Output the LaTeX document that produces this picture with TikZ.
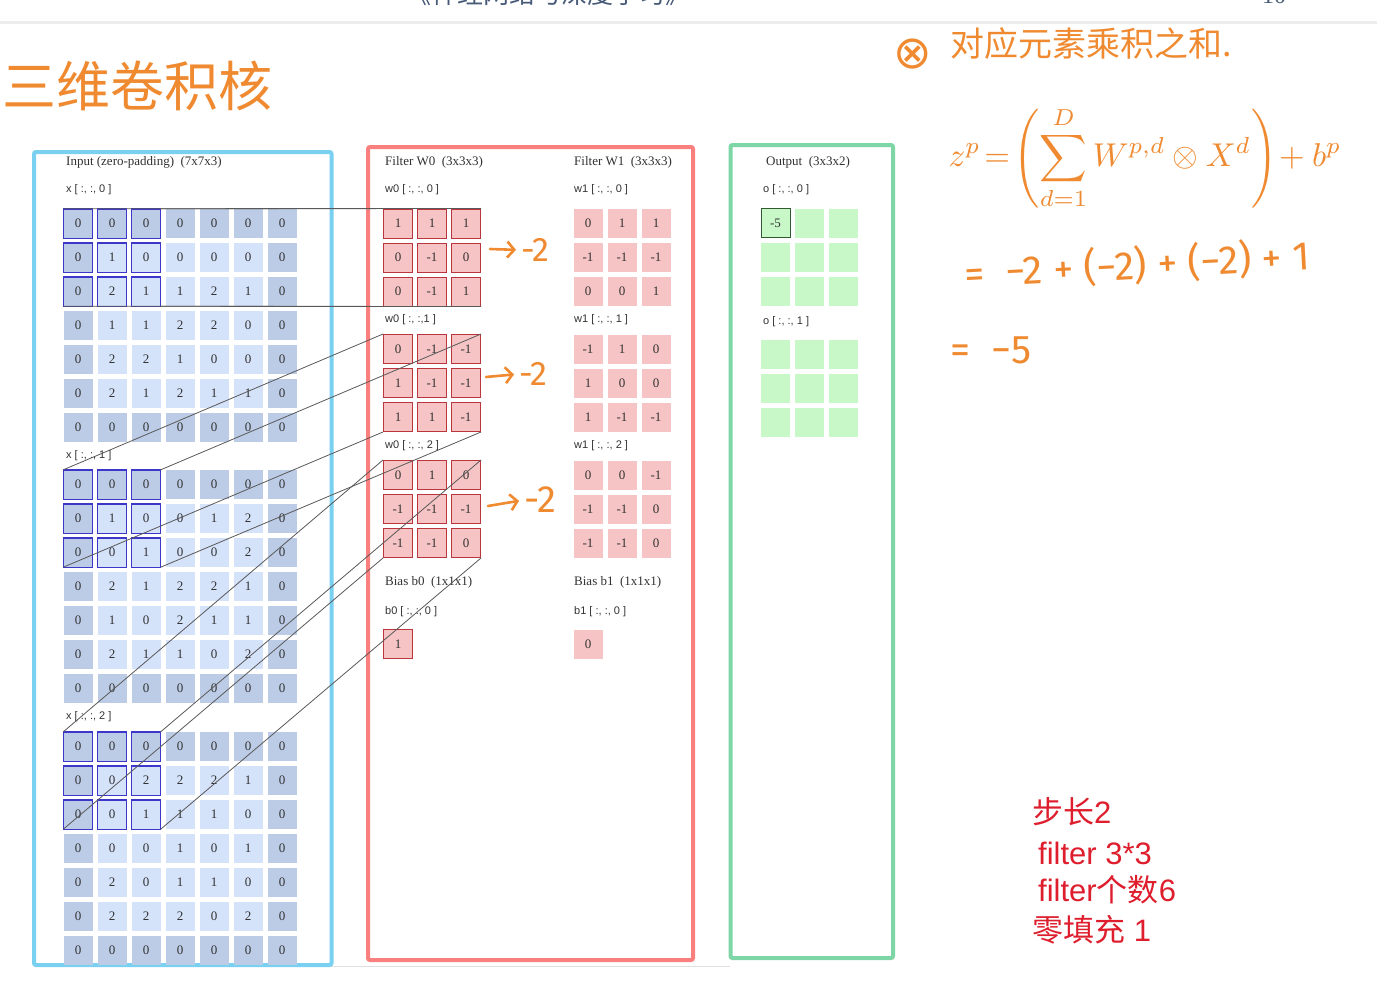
\documentclass[tikz,border=0pt]{standalone}
\usepackage{fontspec}
\usepackage{graphicx}
\setmainfont{Liberation Serif}
\setsansfont{Liberation Sans}
\newfontfamily\cjk{Noto Sans CJK SC}
\newfontfamily\handfont{Fira Sans}
\newfontfamily\symfont{DejaVu Sans}
\usetikzlibrary{arrows.meta}

\definecolor{bluebox}{RGB}{122,208,240}
\definecolor{redbox}{RGB}{250,128,128}
\definecolor{greenbox}{RGB}{126,214,166}
\definecolor{padcell}{RGB}{188,204,230}
\definecolor{incell}{RGB}{212,226,250}
\definecolor{wcell}{RGB}{246,196,196}
\definecolor{wborder}{RGB}{185,55,60}
\definecolor{ocell}{RGB}{200,248,200}
\definecolor{oborder}{RGB}{50,90,50}
\definecolor{selblue}{RGB}{60,55,200}
\definecolor{handor}{RGB}{240,138,48}
\definecolor{notered}{RGB}{222,30,45}
\definecolor{txt}{RGB}{50,50,50}
\definecolor{hdr}{RGB}{70,90,120}

\newcommand\inputgrid[3]{%
  \foreach \row [count=\r] in {#3} {
    \foreach \v [count=\c] in \row {
      \pgfmathtruncatemacro\pad{(\r==1||\r==7||\c==1||\c==7)?1:0}
      \ifnum\pad=1 \def\fc{padcell}\else\def\fc{incell}\fi
      \node[cellbase, fill=\fc] (#1-\r-\c) at ({78+34*(\c-1)},{#2+34*(\r-1)}) {\v};
    }
  }
}
\newcommand\wgrid[5]{%
  \foreach \row [count=\r] in {#4} {
    \foreach \v [count=\c] in \row {
      \node[#5] (#1-\r-\c) at ({#2+34*(\c-1)},{#3+34*(\r-1)}) {\v};
    }
  }
}

\begin{document}
\begin{tikzpicture}[x=1pt,y=-1pt,
  cellbase/.style={minimum size=29pt,inner sep=0pt,font=\fontsize{13}{13}\selectfont,text=txt},
  wcellA/.style={cellbase,fill=wcell,draw=wborder,line width=1pt},
  wcellB/.style={cellbase,fill=wcell},
  ocellst/.style={cellbase,fill=ocell},
  ttl/.style={anchor=west,inner sep=0pt,font=\fontsize{13}{13}\selectfont,text=txt},
  sublab/.style={anchor=west,inner sep=0pt,font=\sffamily\fontsize{11}{11}\selectfont,text=txt},
  conn/.style={draw=black!65,line width=0.8pt},
  selbox/.style={draw=selblue,line width=1.4pt},
  handtxt/.style={text=handor,inner sep=0pt},
  handline/.style={draw=handor,line width=2.6pt,line cap=round,line join=round},
  notetext/.style={anchor=west,inner sep=0pt,text=notered,font=\sffamily\fontsize{31}{31}\selectfont},
  frame/.style={line width=4pt,rounded corners=2pt}
]
\fill[white] (0,0) rectangle (1377,985);
\useasboundingbox (0,0) rectangle (1377,985);

% header
\draw[black!7,line width=3pt] (0,22) -- (1377,22);
\node[anchor=base west,inner sep=0pt,text=hdr,font=\cjk\fontsize{26}{26}\selectfont] (hd) at (405,4) {《神经网络与深度学习》};
\node[anchor=base west,inner sep=0pt,text=hdr,font=\fontsize{24}{24}\selectfont] (pg) at (1262,4) {10};
\draw[black!12,line width=1pt] (331,966) -- (730,966);

% frames
\draw[bluebox,frame] (34,152) rectangle (331.5,965);
\draw[redbox,frame] (368,147) rectangle (693,960);
\draw[greenbox,frame] (730.5,145) rectangle (893,958);

% input
\node[ttl] (tin) at (66,162) {Input (zero-padding)\ \ (7x7x3)};
\node[sublab] (lx0) at (66,190) {x [ :, :, 0 ]};
\node[sublab] (lx1) at (66,456) {x [ :, :, 1 ]};
\node[sublab] (lx2) at (66,717) {x [ :, :, 2 ]};
\inputgrid{x0}{223.5}{{0,0,0,0,0,0,0},{0,1,0,0,0,0,0},{0,2,1,1,2,1,0},{0,1,1,2,2,0,0},{0,2,2,1,0,0,0},{0,2,1,2,1,1,0},{0,0,0,0,0,0,0}}
\inputgrid{x1}{484.5}{{0,0,0,0,0,0,0},{0,1,0,0,1,2,0},{0,0,1,0,0,2,0},{0,2,1,2,2,1,0},{0,1,0,2,1,1,0},{0,2,1,1,0,2,0},{0,0,0,0,0,0,0}}
\inputgrid{x2}{746.5}{{0,0,0,0,0,0,0},{0,0,2,2,2,1,0},{0,0,1,1,1,0,0},{0,0,0,1,0,1,0},{0,2,0,1,1,0,0},{0,2,2,2,0,2,0},{0,0,0,0,0,0,0}}
\foreach \g in {x0,x1,x2}{
  \foreach \r in {1,2,3}{
    \foreach \c in {1,2,3}{
      \draw[selbox] (\g-\r-\c.north west) rectangle (\g-\r-\c.south east);
    }
  }
}

% filter W0
\node[ttl] (tw0) at (385,162) {Filter W0\ \ (3x3x3)};
\node[sublab] (lw00) at (385,190) {w0 [ :, :, 0 ]};
\node[sublab] (lw01) at (385,320) {w0 [ :, :,1 ]};
\node[sublab] (lw02) at (385,446) {w0 [ :, :, 2 ]};
\node[ttl] (tb0) at (385,582) {Bias b0\ \ (1x1x1)};
\node[sublab] (lb0) at (385,612) {b0 [ :, :, 0 ]};
\wgrid{w00}{398}{223.5}{{1,1,1},{0,-1,0},{0,-1,1}}{wcellA}
\wgrid{w01}{398}{349}{{0,-1,-1},{1,-1,-1},{1,1,-1}}{wcellA}
\wgrid{w02}{398}{475}{{0,1,0},{-1,-1,-1},{-1,-1,0}}{wcellA}
\node[wcellA] (b0) at (398,644) {1};

% filter W1
\node[ttl] (tw1) at (574,162) {Filter W1\ \ (3x3x3)};
\node[sublab] (lw10) at (574,190) {w1 [ :, :, 0 ]};
\node[sublab] (lw11) at (574,320) {w1 [ :, :, 1 ]};
\node[sublab] (lw12) at (574,446) {w1 [ :, :, 2 ]};
\node[ttl] (tb1) at (574,582) {Bias b1\ \ (1x1x1)};
\node[sublab] (lb1) at (574,612) {b1 [ :, :, 0 ]};
\wgrid{w10}{588}{223.5}{{0,1,1},{-1,-1,-1},{0,0,1}}{wcellB}
\wgrid{w11}{588}{349}{{-1,1,0},{1,0,0},{1,-1,-1}}{wcellB}
\wgrid{w12}{588}{475}{{0,0,-1},{-1,-1,0},{-1,-1,0}}{wcellB}
\node[wcellB] (b1) at (588,644) {0};

% output
\node[ttl] (tout) at (766,162) {Output\ \ (3x3x2)};
\node[sublab] (lo0) at (763,190) {o [ :, :, 0 ]};
\node[sublab] (lo1) at (763,322) {o [ :, :, 1 ]};
\wgrid{o0}{775.5}{223}{{{},{},{}},{{},{},{}},{{},{},{}}}{ocellst}
\wgrid{o1}{775.5}{354}{{{},{},{}},{{},{},{}},{{},{},{}}}{ocellst}
\node[ocellst,draw=oborder,line width=1pt] (o5) at (o0-1-1) {-5};

% connectors
\foreach \g/\w in {x0/w00,x1/w01,x2/w02}{
  \draw[conn] (\g-1-1.north west) -- (\w-1-1.north west);
  \draw[conn] (\g-1-3.north east) -- (\w-1-3.north east);
  \draw[conn] (\g-3-1.south west) -- (\w-3-1.south west);
  \draw[conn] (\g-3-3.south east) -- (\w-3-3.south east);
}

% handwriting
\node[handtxt,anchor=west,font=\cjk\fontsize{54}{54}\selectfont] (title) at (2,86) {三维卷积核};
\node[handtxt,font=\symfont\fontsize{46}{46}\selectfont] (otim) at (913,54) {⊗};
\node[handtxt,anchor=west,font=\cjk\fontsize{34}{34}\selectfont] (desc) at (950,44) {对应元素乘积之和.};
\node[handtxt] (fz) at (1145,158) {\scalebox{3.3}{$\displaystyle z^{p}\!=\!\left(\sum_{d=1}^{D}W^{p,d}\otimes X^{d}\right)\!+b^{p}$}};
\node[handtxt,rotate=3,font=\handfont\fontsize{40}{40}\selectfont] (eq2) at (1137,265) {=\ \ −2 + (−2) + (−2) + 1};
\node[handtxt,anchor=west,font=\handfont\fontsize{40}{40}\selectfont] (eq3) at (950,350) {=\ \ −5};

\coordinate (a1) at (490,249);
\node[handtxt,anchor=west,font=\handfont\fontsize{34}{34}\selectfont] (m1) at (521,250) {-2};
\draw[handline,-{Straight Barb[length=7pt,width=16pt]},shorten >=5pt] (a1) -- (m1.west);
\coordinate (a2) at (486,377);
\node[handtxt,anchor=west,font=\handfont\fontsize{34}{34}\selectfont] (m2) at (519,374) {-2};
\draw[handline,-{Straight Barb[length=7pt,width=16pt]},shorten >=5pt] (a2) -- (m2.west);
\coordinate (a3) at (488,506);
\node[handtxt,anchor=west,font=\handfont\fontsize{38}{38}\selectfont] (m3) at (524,500) {-2};
\draw[handline,-{Straight Barb[length=7pt,width=16pt]},shorten >=5pt] (a3) -- (m3.west);

% notes
\node[notetext] (n1) at (1032,812) {{\cjk 步长}2};
\node[notetext] (n2) at (1038,853) {filter 3*3};
\node[notetext] (n3) at (1038,890) {filter{\cjk 个数}6};
\node[notetext] (n4) at (1032,930) {{\cjk 零填充} 1};
\end{tikzpicture}
\end{document}
